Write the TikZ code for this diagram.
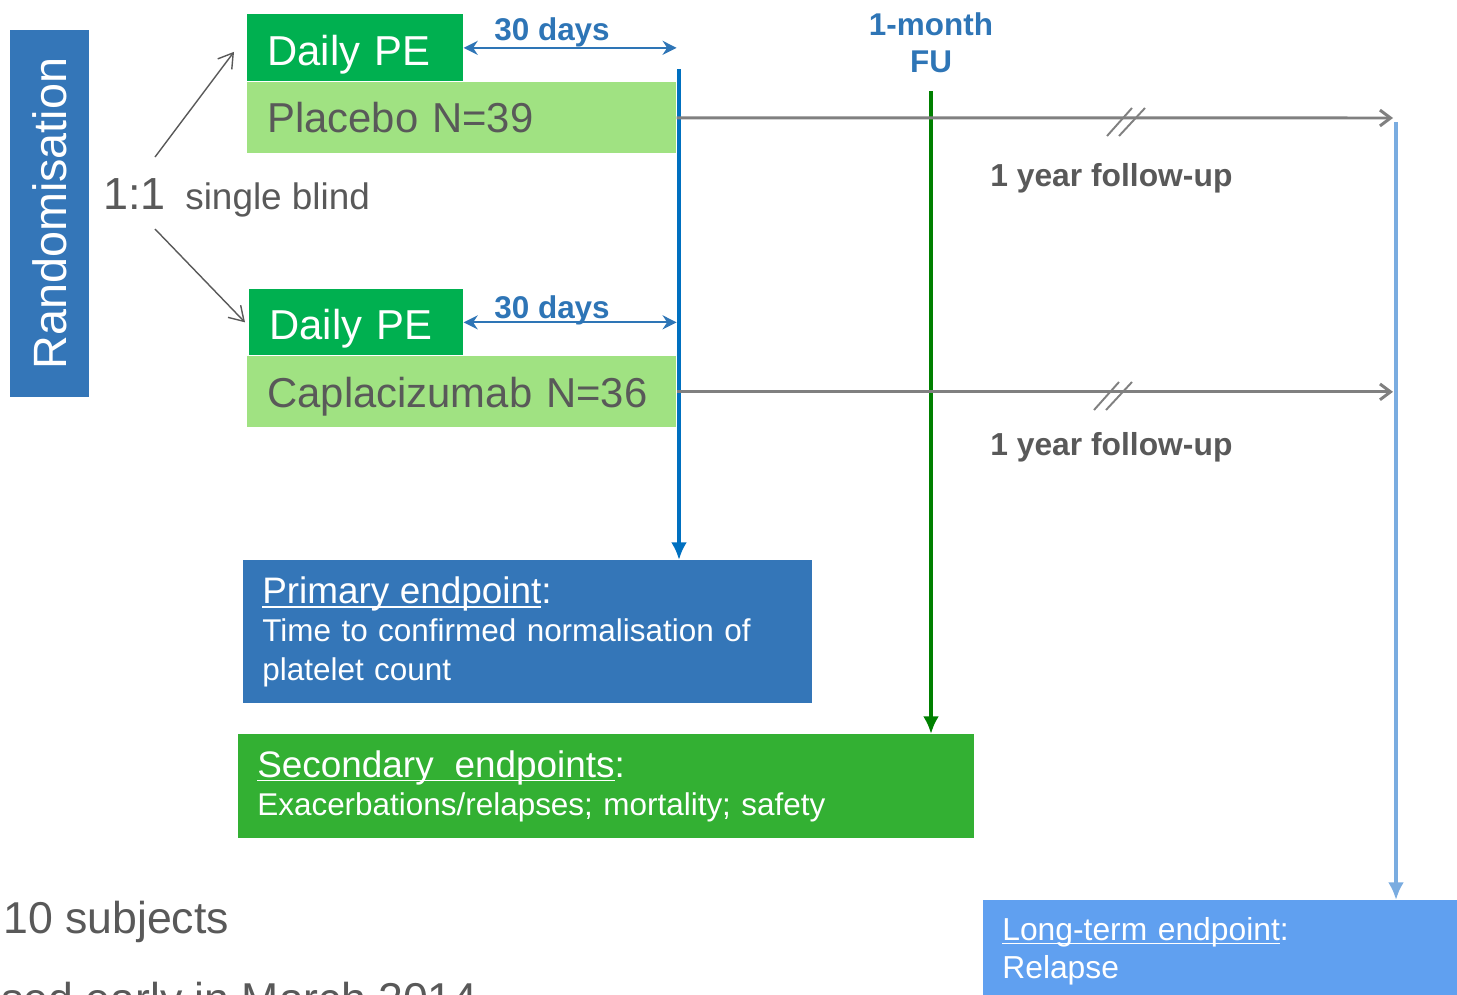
\documentclass[tikz,border=0pt]{standalone}
\usepackage{fontspec}
\setmainfont{Liberation Sans}
\usepackage{tikz}
\usetikzlibrary{arrows.meta}

\definecolor{randblue}{RGB}{52,118,184}
\definecolor{pegreen}{RGB}{0,176,80}
\definecolor{armgreen}{RGB}{160,226,130}
\definecolor{txtgray}{RGB}{89,89,89}
\definecolor{daysblue}{RGB}{46,117,182}
\definecolor{lineblue}{RGB}{0,112,192}
\definecolor{fugreen}{RGB}{0,128,0}
\definecolor{fugray}{RGB}{128,128,128}
\definecolor{ltblue}{RGB}{122,172,224}
\definecolor{secgreen}{RGB}{51,176,51}
\definecolor{ltbox}{RGB}{96,160,240}

\newcommand{\udl}[1]{\setbox0\hbox{#1}\rlap{\rule[-0.11em]{\wd0}{0.05em}}\box0}

\begin{document}
\begin{tikzpicture}
    [x=0.02cm, y=-0.02cm,
     box/.style={anchor=north west, inner xsep=0.4cm, inner ysep=0pt, align=left, text=white},
     pebox/.style={box, fill=pegreen, text height=0.7cm, text depth=0pt, minimum height=1.34cm, font=\fontsize{23.8}{28}\selectfont},
     armbox/.style={box, fill=armgreen, text=txtgray, text depth=0pt, text width=7.78cm, minimum height=1.42cm, font=\fontsize{23.8}{28}\selectfont},
     endbox/.style={box, inner xsep=0.38cm, font=\fontsize{17.9}{21.8}\selectfont},
     daylabel/.style={anchor=base west, inner sep=0pt, text=daysblue, font=\bfseries\fontsize{17.9}{21.5}\selectfont},
     fulabel/.style={anchor=base west, inner sep=0pt, text=txtgray, font=\bfseries\fontsize{18.1}{21.5}\selectfont},
     graytext/.style={anchor=base west, inner sep=0pt, text=txtgray},
     dayarrow/.style={{Stealth[length=8pt,width=8pt]}-{Stealth[length=8pt,width=8pt]}, daysblue, line width=1.2pt},
     splitarrow/.style={-{Straight Barb[length=8pt,width=10pt]}, txtgray, line width=0.8pt},
     fuarrow/.style={-{Straight Barb[length=6pt,width=9pt]}, fugray, line width=1.7pt},
     vline/.style={-{Latex[length=10pt,width=9pt]}, line width=2.6pt}]
%page frame
\path[use as bounding box] (0,0) rectangle (1457,994);
\clip (0,0) rectangle (1457,994);

%randomisation
\node[fill=randblue, text=white, rotate=90, minimum width=7.34cm, minimum height=1.58cm, inner sep=0pt,
      font=\fontsize{26.6}{32}\selectfont] (rand) at (49.5,213.5) {Randomisation};
\node[graytext, font=\fontsize{25.6}{30}\selectfont] (ratio) at (103,209) {1:1};
\node[graytext, font=\fontsize{21}{25}\selectfont] (blind) at (185,209) {single blind};

%the two arms
\node[pebox, text width=3.52cm] (pe1) at (247,14) {Daily PE};
\node[armbox] (plac) at (247,82) {Placebo N=39};
\node[pebox, text width=3.48cm, minimum height=1.32cm] (pe2) at (249,289) {Daily PE};
\node[armbox] (capl) at (247,356) {Caplacizumab N=36};

\coordinate (splitup) at (155,157);
\coordinate (splitdn) at (155,229);
\draw[splitarrow] (splitup) -- ([shift={(-13,4)}]pe1.west);
\draw[splitarrow] (splitdn) -- ([xshift=-0.08cm]pe2.west);

%30 days
\draw[dayarrow] (pe1.east) -- (pe1.east -| plac.east);
\node[daylabel] (d1) at (494,40) {30 days};
\draw[dayarrow] (pe2.east) -- (pe2.east -| capl.east);
\node[daylabel] (d2) at (494,318) {30 days};

%endpoint boxes
\node[endbox, fill=randblue, text width=10.62cm, minimum height=2.86cm] (prim) at (243,560)
     {{\fontsize{21}{25}\selectfont\udl{Primary endpoint}:}\\Time to confirmed normalisation of\\platelet count};
\node[endbox, fill=secgreen, text width=13.96cm, minimum height=2.08cm] (sec) at (238,734)
     {{\fontsize{21}{25}\selectfont\udl{Secondary\ \ endpoints}:}\\Exacerbations/relapses; mortality; safety};
\node[endbox, fill=ltbox, text width=8.84cm, minimum height=2.04cm, font=\fontsize{18.1}{21.5}\selectfont] (lt) at (983,900)
     {\udl{Long-term endpoint}:\\Relapse};

%time lines
\node[anchor=north, align=center, inner sep=0pt, text=daysblue, font=\bfseries\fontsize{17.9}{21.5}\selectfont] (fu) at (931,12) {1-month\\FU};
\coordinate (endtop) at (679,69);
\coordinate (futop) at (931,91);
\coordinate (yrtop) at (1396,122);
\draw[vline, lineblue] (endtop) -- (endtop |- prim.north);
\draw[vline, fugreen] (futop) -- (futop |- sec.north);
\draw[vline, ltblue] (yrtop) -- (yrtop |- lt.north);

\coordinate (yr1) at (1393,118);
\draw[fuarrow] (plac.east) -- (yr1);
\draw[fuarrow] (capl.east) -- (capl.east -| yr1);
\foreach \bx/\by in {1129/118,1116/392}
  \draw[fugray, line width=1.1pt] ({\bx-22},{\by+18}) -- ({\bx+3},{\by-10}) ({\bx-10},{\by+18}) -- ({\bx+16},{\by-10});
\node[fulabel] (yl1) at (990,186) {1 year follow-up};
\node[fulabel] (yl2) at (990,455) {1 year follow-up};

%cut text at the bottom
\node[graytext, font=\fontsize{25.4}{30}\selectfont] (subj) at (3,933) {10 subjects};
\node[graytext, font=\fontsize{25.4}{30}\selectfont] (early) at (1,1014) {sed early in March 2014};
\end{tikzpicture}
\end{document}
